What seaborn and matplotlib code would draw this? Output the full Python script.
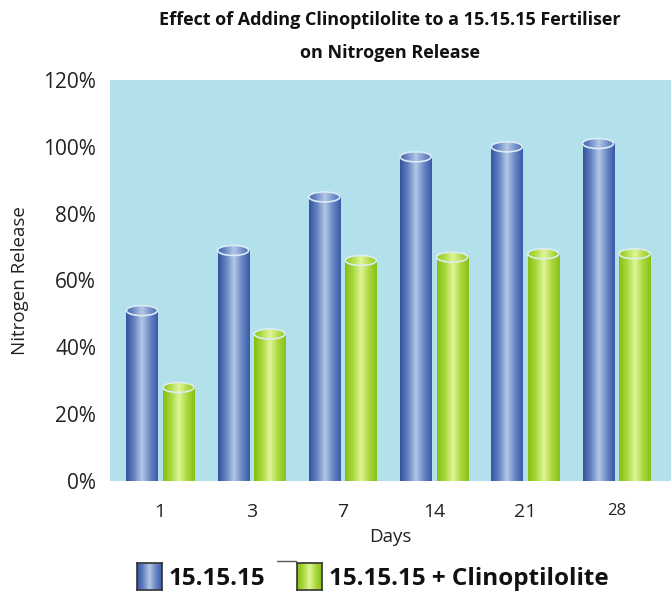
"""
Effect of Adding Clinoptilolite to a 15.15.15 Fertiliser on Nitrogen Release.
Grouped cylinder-style bar chart with seaborn + matplotlib.
"""

import numpy as np
import pandas as pd
import matplotlib
matplotlib.use("Agg")
import matplotlib.pyplot as plt
import matplotlib.ticker as mticker
from matplotlib.colors import LinearSegmentedColormap
from matplotlib.patches import Ellipse
import seaborn as sns

DAYS = ["1", "3", "7", "14", "21", "28"]
SERIES = ["15.15.15", "15.15.15 + Clinoptilolite"]
RELEASE_PLAIN = [51, 69, 85, 97, 100, 101]
RELEASE_CLINO = [28, 44, 66, 67, 68, 68]

BLUE_STOPS = ["#34529f", "#6583c2", "#b4c8e6", "#6a88c6", "#3a59a8"]
GREEN_STOPS = ["#84be14", "#a8d83c", "#e0f59a", "#acd83e", "#86c018"]
BG = "#b2e1ec"

sns.set_theme(style="white")
plt.rcParams["font.family"] = ["Open Sans", "DejaVu Sans"]

df = pd.DataFrame({
    "day": DAYS * 2,
    "release": RELEASE_PLAIN + RELEASE_CLINO,
    "series": [SERIES[0]] * len(DAYS) + [SERIES[1]] * len(DAYS),
})

cmaps = [LinearSegmentedColormap.from_list("blue", BLUE_STOPS),
         LinearSegmentedColormap.from_list("green", GREEN_STOPS)]
grad = np.linspace(0, 1, 128).reshape(1, -1)

fig = plt.figure(figsize=(6.71, 5.92), dpi=100)
ax = fig.add_axes([110 / 671, 1 - 481 / 592, (671 - 110) / 671, (481 - 80) / 592])
ax.set_facecolor(BG)

sns.barplot(data=df, x="day", y="release", hue="series", order=DAYS, hue_order=SERIES,
            palette=[BLUE_STOPS[1], GREEN_STOPS[1]], width=0.8, gap=0.15,
            legend=False, ax=ax)

# turn flat bars into shaded cylinders
cap_h = 3.0
for cont, cmap in zip(ax.containers, cmaps):
    for bar in cont:
        x0, w, h = bar.get_x(), bar.get_width(), bar.get_height()
        bar.set_visible(False)
        ax.imshow(grad, cmap=cmap, extent=[x0, x0 + w, 0, h], aspect="auto", zorder=2)
        top = Ellipse((x0 + w / 2, h), w, cap_h, facecolor="none", edgecolor="none")
        ax.add_patch(top)
        img = ax.imshow(grad * 0.8 + 0.1, cmap=cmap, vmin=0, vmax=1,
                        extent=[x0, x0 + w, h - cap_h, h + cap_h], aspect="auto", zorder=3)
        img.set_clip_path(top)
        ax.add_patch(Ellipse((x0 + w / 2, h), w, cap_h, facecolor="none",
                             edgecolor="#dcecf4", lw=1.2, zorder=4))

ax.set_xlim(-0.55, 5.6)
ax.set_ylim(0, 120)
ax.yaxis.set_major_locator(mticker.MultipleLocator(20))
ax.yaxis.set_major_formatter(mticker.FuncFormatter(lambda v, _: f"{int(v)}%"))
ax.tick_params(axis="y", length=0, pad=10, labelsize=15, colors="#222222")
ax.tick_params(axis="x", length=0, pad=16, labelsize=14, colors="#222222")
ax.get_xticklabels()[-1].set_fontsize(12)
for s in ax.spines.values():
    s.set_visible(False)

ax.set_xlabel("Days", fontsize=13.5, labelpad=5, color="#222222")
ax.set_ylabel("Nitrogen Release", fontsize=13.5, labelpad=10, color="#222222")

fig.text(390 / 671, 1 - 20 / 592, "Effect of Adding Clinoptilolite to a 15.15.15 Fertiliser",
         ha="center", va="center", fontsize=13, fontweight="bold", color="#111111")
fig.text(390 / 671, 1 - 53 / 592, "on Nitrogen Release",
         ha="center", va="center", fontsize=13, fontweight="bold", color="#111111")

# legend at the bottom with shaded swatches
legend_items = [(137, SERIES[0]), (297, SERIES[1])]
for (lx, label), cmap in zip(legend_items, cmaps):
    sw = fig.add_axes([lx / 671, 1 - 590 / 592, 25 / 671, 27 / 592])
    sw.imshow(grad, cmap=cmap, aspect="auto")
    sw.set_xticks([])
    sw.set_yticks([])
    for s in sw.spines.values():
        s.set_edgecolor("#333333")
        s.set_linewidth(1.2)
    fig.text((lx + 32) / 671, 1 - 579 / 592, label, ha="left", va="center",
             fontsize=17.5, fontweight="bold", color="#111111")

fig.add_artist(plt.Line2D([277 / 671, 296 / 671], [1 - 561 / 592, 1 - 561 / 592],
                          color="#555555", lw=1))

fig.savefig("out.png", dpi=100)
